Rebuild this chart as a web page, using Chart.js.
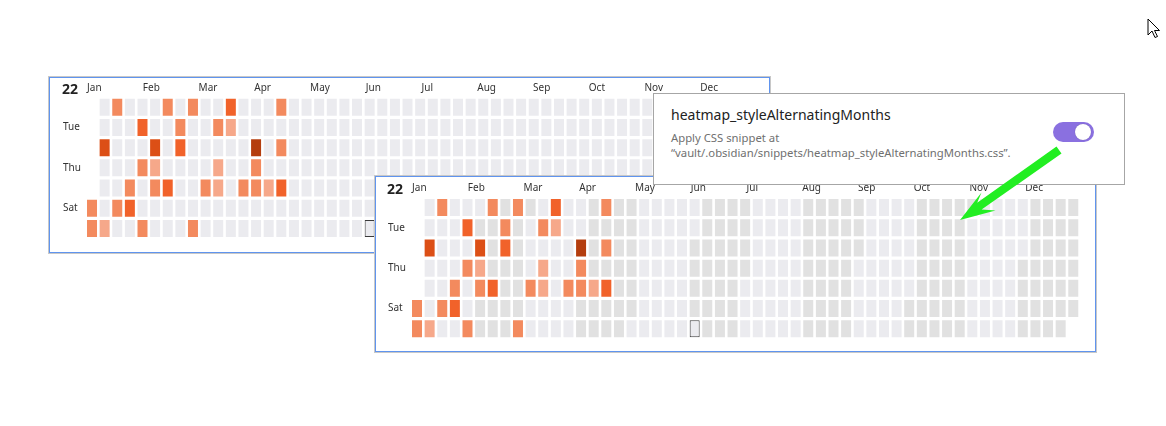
<!DOCTYPE html>
<html>
<head>
<meta charset="utf-8">
<script src="https://cdn.jsdelivr.net/npm/chart.js@4.4.0/dist/chart.umd.min.js"></script>
<style>
  html, body { margin: 0; padding: 0; background: #fff; }
  body { width: 1166px; height: 426px; position: relative; overflow: hidden; font-family: "Noto Sans", sans-serif; }
  .panel {
    position: absolute; width: 721px; height: 176px; box-sizing: border-box;
    border: 1px solid #6094ee; box-shadow: 0 0 0 1px #c8c8c8; background: #fff;
  }
  .panel canvas { position: absolute; left: 0; top: 0; }
  .year { position: absolute; font-size: 14px; line-height: 14px; font-weight: 700; color: #222; }
  .popup {
    position: absolute; left: 653px; top: 93px; width: 472px; height: 92px; box-sizing: border-box;
    border: 1px solid #a6a6a6; background: #fff;
  }
  .popup .title { position: absolute; left: 17px; top: 11px; font-size: 14px; color: #222; white-space: nowrap; }
  .popup .desc { position: absolute; left: 17px; top: 36px; font-size: 11.3px; line-height: 15px; color: #707070; white-space: nowrap; }
  .toggle { position: absolute; left: 399px; top: 28px; width: 41px; height: 20px; border-radius: 10px; background: #8a70e0; }
  .toggle .knob { position: absolute; left: 22px; top: 2px; width: 16px; height: 16px; border-radius: 50%; background: #fff; box-shadow: 0 0 1px rgba(0,0,0,0.3); }
  svg.overlay { position: absolute; left: 0; top: 0; pointer-events: none; }
</style>
</head>
<body>

<div class="panel" id="panel1" style="left:49px; top:77px;">
  <canvas id="heat1" width="719" height="174"></canvas>
  <span class="year" style="left:12px; top:4px;">22</span>
</div>

<div class="panel" id="panel2" style="left:375px; top:176px;">
  <canvas id="heat2" width="719" height="174"></canvas>
  <span class="year" style="left:11px; top:5px;">22</span>
</div>

<div class="popup">
  <div class="title">heatmap_styleAlternatingMonths</div>
  <div class="desc">Apply CSS snippet at<br>“vault/.obsidian/snippets/heatmap_styleAlternatingMonths.css”.</div>
  <div class="toggle"><div class="knob"></div></div>
</div>

<svg class="overlay" width="1166" height="426">
  <polygon fill="#22ee22"
    points="1061.5,153.5 981.6,209.5 995.5,210.5 960,220 981.5,192.5 977.2,202.8 1056.5,146.5" />
  <path d="M1148 19 L1148 35 L1152 31 L1155 37.5 L1157.5 36.5 L1154.5 30.5 L1159.5 30.5 Z"
    fill="#fff" stroke="#000" stroke-width="1" stroke-linejoin="miter" />
</svg>

<script>
const YEAR = 2022;
const monthLabels = ['Jan', 'Feb', 'Mar', 'Apr', 'May', 'Jun', 'Jul', 'Aug', 'Sep', 'Oct', 'Nov', 'Dec'];
const dayLabels = ['Mon', 'Tue', 'Wed', 'Thu', 'Fri', 'Sat', 'Sun'];
const shownDays = ['Tue', 'Thu', 'Sat'];

// days with notes, and how busy they were (1..5)
const activeDates = [
  '2022-01-01', '2022-01-02', '2022-01-05', '2022-01-09', '2022-01-10', '2022-01-15',
  '2022-01-21', '2022-01-22', '2022-01-25', '2022-01-27', '2022-01-30',
  '2022-02-02', '2022-02-03', '2022-02-04', '2022-02-07', '2022-02-11', '2022-02-15',
  '2022-02-16', '2022-02-21', '2022-02-27',
  '2022-03-04', '2022-03-08', '2022-03-10', '2022-03-11', '2022-03-14', '2022-03-15',
  '2022-03-25', '2022-03-30', '2022-03-31',
  '2022-04-01', '2022-04-08', '2022-04-11', '2022-04-13', '2022-04-15'
];
const activeLevels = [
  2, 2, 4, 1, 2, 2,
  2, 3, 3, 2, 2,
  4, 1, 2, 2, 3, 2,
  3, 2, 2,
  2, 2, 1, 1, 3, 1,
  2, 5, 2,
  2, 1, 2, 2, 3
];
const todayDate = '2022-06-05';

const levelColors = ['#ebebef', '#f6a88a', '#f38a5e', '#f1622a', '#dc4f16', '#b43d0e'];
const altEmptyColor = '#e1e1e1';

Chart.defaults.font.family = "'Noto Sans', sans-serif";

// lay the year out as 53 week columns x 7 weekday rows (Monday first)
const jan1 = new Date(Date.UTC(YEAR, 0, 1));
const firstRow = (jan1.getUTCDay() + 6) % 7;
const weeks = [];
const levelGrid = dayLabels.map(() => []);
const monthGrid = dayLabels.map(() => []);
const todayGrid = dayLabels.map(() => []);
for (let d = 0; d < 366; d++) {
  const dt = new Date(jan1.getTime() + d * 86400000);
  if (dt.getUTCFullYear() !== YEAR) break;
  const iso = dt.toISOString().slice(0, 10);
  const col = Math.floor((d + firstRow) / 7);
  const row = (d + firstRow) % 7;
  if (!weeks.includes(col)) weeks.push(col);
  const k = activeDates.indexOf(iso);
  levelGrid[row][col] = k >= 0 ? activeLevels[k] : 0;
  monthGrid[row][col] = dt.getUTCMonth();
  todayGrid[row][col] = iso === todayDate;
}

const gap = 0.08;

function makeHeatmap(id, alternate, box) {
  const datasets = dayLabels.map((day, r) => ({
    label: day,
    data: weeks.map(c => levelGrid[r][c] === undefined ? null : [r + gap, r + 1 - gap]),
    backgroundColor: ctx => {
      const lv = levelGrid[r][ctx.dataIndex];
      if (lv > 0) return levelColors[lv];
      if (todayGrid[r][ctx.dataIndex]) return levelColors[0];
      if (alternate && monthGrid[r][ctx.dataIndex] % 2 === 1) return altEmptyColor;
      return levelColors[0];
    },
    borderColor: '#3a3a3a',
    borderWidth: ctx => todayGrid[r][ctx.dataIndex] ? 1 : 0,
    borderSkipped: false,
    grouped: false,
    barPercentage: 0.792,
    categoryPercentage: 1
  }));

  return new Chart(document.getElementById(id), {
    type: 'bar',
    data: { labels: weeks, datasets },
    options: {
      responsive: false,
      animation: false,
      events: [],
      layout: { padding: { left: box.left, right: box.right, top: 0, bottom: box.bottom } },
      plugins: { legend: { display: false }, tooltip: { enabled: false } },
      scales: {
        x: { type: 'category', display: false },
        months: {
          type: 'linear', axis: 'x', position: 'top', offset: false,
          min: -0.025, max: 11.975,
          grid: { display: false, drawTicks: false }, border: { display: false },
          afterBuildTicks: s => { s.ticks = monthLabels.map((m, i) => ({ value: i })); },
          afterFit: s => { s.height = box.top; },
          ticks: {
            align: 'start', padding: 3, maxRotation: 0, autoSkip: false,
            color: '#333', font: { size: 10 },
            callback: v => monthLabels[v]
          }
        },
        y: {
          type: 'linear', min: 0, max: 7, reverse: true,
          grid: { display: false, drawTicks: false }, border: { display: false },
          afterBuildTicks: s => { s.ticks = shownDays.map(d => ({ value: dayLabels.indexOf(d) + 0.5 })); },
          afterFit: s => { s.width = box.axis; },
          ticks: {
            crossAlign: 'far', padding: 0,
            color: '#333', font: { size: 10 },
            callback: v => dayLabels[Math.floor(v)]
          }
        }
      }
    }
  });
}

makeHeatmap('heat1', false, { left: 13, axis: 22.7, right: 14.4, top: 19.1, bottom: 13.4 });
makeHeatmap('heat2', true, { left: 12, axis: 22.7, right: 15.4, top: 20.4, bottom: 12.1 });
</script>
</body>
</html>
